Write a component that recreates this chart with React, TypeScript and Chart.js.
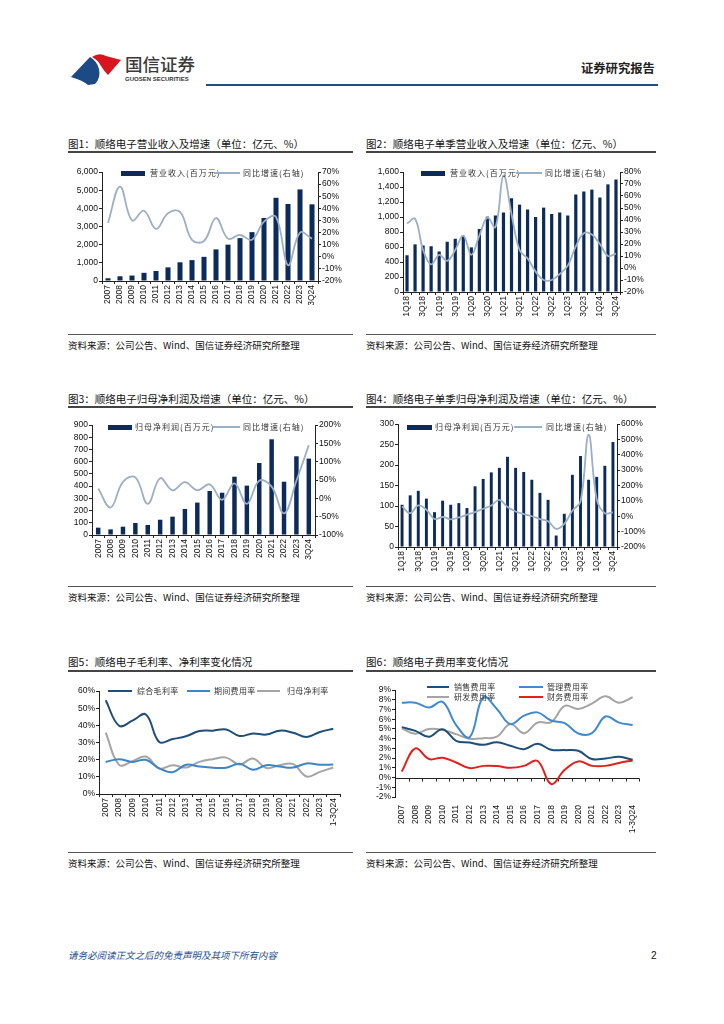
import React, { useEffect, useRef } from "react";
import { Chart, registerables } from "chart.js";

Chart.register(...registerables);

// ---------------- data ----------------
const annualLabels = ["2007", "2008", "2009", "2010", "2011", "2012", "2013", "2014", "2015", "2016", "2017", "2018", "2019", "2020", "2021", "2022", "2023", "1-3Q24"];
const quarterLabels = ["1Q18", "2Q18", "3Q18", "4Q18", "1Q19", "2Q19", "3Q19", "4Q19", "1Q20", "2Q20", "3Q20", "4Q20", "1Q21", "2Q21", "3Q21", "4Q21", "1Q22", "2Q22", "3Q22", "4Q22", "1Q23", "2Q23", "3Q23", "4Q23", "1Q24", "2Q24", "3Q24"];

const revenueAnnual = [150, 260, 300, 450, 550, 750, 1030, 1150, 1330, 1740, 2000, 2360, 2690, 3470, 4580, 4240, 5040, 4220];
const revenueAnnualYoY = [28, 58, 30, 38, 23, 36, 37, 14, 13, 32, 15, 18, 14, 29, 33, -7, 20, 15];

const revenueQuarterly = [490, 635, 620, 610, 540, 670, 710, 750, 595, 840, 1005, 1020, 1060, 1250, 1165, 1100, 1000, 1125, 1040, 1060, 1020, 1300, 1340, 1365, 1260, 1435, 1500];
const revenueQuarterlyYoY = [37, 41, 15, 3, 11, 6, 15, 27, 11, 27, 42, 34, 77, 45, 15, 8, -3, -10, -10, -5, 2, 18, 29, 28, 20, 10, 12];

const profitAnnual = [60, 46, 68, 98, 82, 125, 150, 213, 265, 360, 346, 477, 404, 589, 783, 436, 644, 625];
const profitAnnualYoY = [27, -25, 45, 57, -15, 55, 22, 44, 22, 38, -4, 41, -15, 48, 32, -41, 48, 145];

const profitQuarterly = [103, 126, 137, 118, 85, 113, 103, 107, 95, 148, 166, 182, 193, 220, 193, 183, 164, 132, 115, 28, 81, 176, 222, 164, 171, 198, 256];
const profitQuarterlyYoY = [64, 20, 70, 42, -18, -5, -20, -8, 10, 27, 49, 70, 107, 60, 31, 14, 0, -18, -33, -82, -50, 36, 96, 530, 110, 20, 25];

const grossMargin = [54.6, 39.8, 42.7, 46.3, 30.3, 32, 33.6, 36.7, 36.9, 37.6, 33.8, 35.3, 34.6, 36.9, 35.7, 33.2, 36.1, 38.0];
const expenseRatio = [18.7, 20.3, 18.7, 19.9, 14.9, 12.7, 17, 16, 15.3, 15.3, 17.6, 14.1, 16.8, 16, 15.4, 17.8, 17, 17.2];
const netMargin = [35.7, 17, 19.1, 21.8, 14.9, 16.8, 15.4, 18.7, 20.3, 21.2, 17.2, 20.7, 15.1, 16.8, 17.4, 10.2, 12.9, 15.4];

const sellingRatio = [5.18, 4.8, 4.2, 4.97, 3.78, 3.6, 3.36, 3.64, 3.26, 2.92, 3.47, 2.85, 2.82, 2.75, 1.9, 1.96, 2.13, 1.83];
const adminRatio = [7.7, 7.7, 7.2, 7.77, 5.4, 4.15, 8.25, 7.05, 5.5, 6.37, 6.7, 5.86, 5.6, 4.53, 4.56, 6.27, 5.65, 5.4];
const rdRatio = [5.07, 4.5, 5.0, 4.9, 4.46, 4.0, 4.05, 4.2, 5.5, 4.56, 5.65, 5.7, 7.36, 7.05, 7.6, 8.35, 7.7, 8.25];
const financeRatio = [0.63, 3.0, 1.9, 2.03, 1.55, 0.97, 1.2, 1.18, 1.0, 1.2, 1.7, -0.67, 0.8, 1.66, 1.2, 1.2, 1.5, 1.76];

// ---------------- styles ----------------
const NAVY = "#0C2B5A";
const GROWTH = "#9CB0C5";
const AXIS = "#222";
const TICK_COLOR = "#111";
const TICK_FONT = { family: "'Liberation Sans', Arial, sans-serif", size: 8.5 };
const CJK = "'Noto Sans CJK SC', 'Noto Sans', sans-serif";
const C_DARK = "#1F4E79";
const C_BLUE = "#3D85C6";
const C_GRAY = "#A5A5A5";
const C_RED = "#E2211C";

const fixW = (w: number) => (s: any) => { s.width = w; };
const fixH = (h: number) => (s: any) => { s.height = h; };

const thousands = (v: any) => Number(v).toLocaleString("en-US");
const pct = (v: any) => v + "%";

function xAxis(hX: number, everyOther: boolean, labels: string[], border = true) {
  return {
    type: "category",
    offset: true,
    grid: { display: border, drawOnChartArea: false, drawTicks: true, tickLength: 3, color: AXIS, offset: true },
    border: { display: border, color: AXIS, width: 1 },
    ticks: {
      font: TICK_FONT,
      color: TICK_COLOR,
      autoSkip: false,
      maxRotation: 90,
      minRotation: 90,
      padding: border ? 1 : 5,
      callback: (_v: any, i: number) => (everyOther && i % 2 === 1 ? "" : labels[i]),
    },
    afterFit: fixH(hX),
  };
}

function yAxis(pos: "left" | "right", min: number, max: number, step: number, w: number, fmt: (v: any) => string) {
  return {
    position: pos,
    min,
    max,
    grid: { display: true, drawOnChartArea: false, drawTicks: true, tickLength: 3, color: AXIS },
    border: { display: true, color: AXIS, width: 1 },
    ticks: { stepSize: step, autoSkip: false, font: TICK_FONT, color: TICK_COLOR, padding: 1, callback: fmt },
    afterFit: fixW(w),
  };
}

function barLineConfig(p: any) {
  return {
    type: "bar",
    data: {
      labels: p.labels,
      datasets: [
        {
          type: "line",
          data: p.line,
          borderColor: GROWTH,
          borderWidth: 1.8,
          pointRadius: 0,
          tension: 0.4,
          yAxisID: "y1",
          order: 1,
        },
        {
          type: "bar",
          data: p.bars,
          backgroundColor: NAVY,
          barPercentage: p.barPct,
          categoryPercentage: 1,
          yAxisID: "y",
          order: 2,
        },
      ],
    },
    options: {
      responsive: false,
      animation: false,
      layout: { padding: { top: 7, left: 0, right: 0, bottom: 0 } },
      plugins: { legend: { display: false }, tooltip: { enabled: false } },
      scales: {
        x: xAxis(p.hX, p.everyOther, p.labels),
        y: yAxis("left", 0, p.yMax, p.yStep, p.wL, p.leftFmt),
        y1: yAxis("right", p.y1Min, p.y1Max, p.y1Step, p.wR, p.rightFmt || pct),
      },
    },
  };
}

const zeroAxisPlugin = {
  id: "zeroAxis",
  beforeDatasetsDraw(chart: any) {
    const { ctx, chartArea, scales } = chart;
    const x = scales.x;
    const y = scales.y;
    const y0 = Math.round(y.getPixelForValue(0)) + 0.5;
    const half = (x.getPixelForValue(1) - x.getPixelForValue(0)) / 2;
    ctx.save();
    ctx.strokeStyle = AXIS;
    ctx.lineWidth = 1;
    ctx.beginPath();
    ctx.moveTo(chartArea.left, y0);
    ctx.lineTo(chartArea.right, y0);
    const n = chart.data.labels.length;
    for (let i = 0; i <= n; i++) {
      const px = Math.round(x.getPixelForValue(0) - half + i * half * 2) + 0.5;
      ctx.moveTo(px, y0);
      ctx.lineTo(px, y0 + 3);
    }
    ctx.stroke();
    ctx.restore();
  },
};

function lineDs(data: number[], color: string) {
  return { data, borderColor: color, borderWidth: 2, pointRadius: 0, tension: 0.4, fill: false };
}

function margin5Config() {
  return {
    type: "line",
    data: {
      labels: annualLabels,
      datasets: [lineDs(grossMargin, C_DARK), lineDs(expenseRatio, C_BLUE), lineDs(netMargin, C_GRAY)],
    },
    options: {
      responsive: false,
      animation: false,
      layout: { padding: { top: 7, left: 0, right: 6, bottom: 0 } },
      plugins: { legend: { display: false }, tooltip: { enabled: false } },
      scales: {
        x: xAxis(38, false, annualLabels),
        y: yAxis("left", 0, 60, 10, 30, pct),
      },
    },
  };
}

function expense6Config() {
  return {
    type: "line",
    data: {
      labels: annualLabels,
      datasets: [
        lineDs(sellingRatio, C_DARK),
        lineDs(adminRatio, "#4389D0"),
        lineDs(rdRatio, C_GRAY),
        lineDs(financeRatio, C_RED),
      ],
    },
    options: {
      responsive: false,
      animation: false,
      layout: { padding: { top: 7, left: 0, right: 6, bottom: 0 } },
      plugins: { legend: { display: false }, tooltip: { enabled: false } },
      scales: {
        x: xAxis(36, false, annualLabels, false),
        y: yAxis("left", -2, 9, 1, 28, pct),
      },
    },
    plugins: [zeroAxisPlugin],
  };
}

// ---------------- components ----------------
function ChartCanvas({ left, top, width, height, make }: any) {
  const ref = useRef<HTMLCanvasElement>(null);
  useEffect(() => {
    const chart = new Chart(ref.current as HTMLCanvasElement, make());
    return () => chart.destroy();
  }, []);
  return (
    <canvas
      ref={ref}
      width={width}
      height={height}
      style={{ position: "absolute", left, top, width, height }}
    />
  );
}

function Txt({ x, y, size, children, color = "#111", weight = 400, family = CJK, italic = false, ls = 0 }: any) {
  const h = Math.round(size * 1.5);
  return (
    <div
      style={{
        position: "absolute",
        left: x,
        top: y - h / 2,
        height: h,
        lineHeight: h + "px",
        fontSize: size,
        color,
        fontWeight: weight,
        fontFamily: family,
        fontStyle: italic ? "italic" : "normal",
        letterSpacing: ls,
        whiteSpace: "nowrap",
      }}
    >
      {children}
    </div>
  );
}

function Rule({ x1, x2, y, w = 1, color = "#444" }: any) {
  return <div style={{ position: "absolute", left: x1, top: y - w / 2, width: x2 - x1, height: w, background: color }} />;
}

function LegBar({ x1, x2, y }: any) {
  return <div style={{ position: "absolute", left: x1, top: y - 2.5, width: x2 - x1, height: 5, background: NAVY }} />;
}

function LegLine({ x1, x2, y, color, w = 2 }: any) {
  return <div style={{ position: "absolute", left: x1, top: y - w / 2, width: x2 - x1, height: w, background: color }} />;
}

function LegText({ x, y, children, ls = 1 }: any) {
  return (
    <Txt x={x} y={y} size={8} color="#333" ls={ls}>
      {children}
    </Txt>
  );
}

const SOURCE = "资料来源：公司公告、Wind、国信证券经济研究所整理";

export default function App() {
  return (
    <div style={{ position: "absolute", left: 0, top: 0, width: 724, height: 1024, background: "#fff", overflow: "hidden" }}>
      {/* header */}
      <svg style={{ position: "absolute", left: 0, top: 0 }} width={200} height={100}>
        <path d="M71,77 L90,57 Q97,61 99,69 Q101,78 95,84 L88,85 Q82,80 71,77 Z" fill="#1B4A85" />
        <path d="M92,57 Q99,52 106,56 L121,60 L108,75 Q104,71 101,66 Q98,60 92,57 Z" fill="#D7151F" />
      </svg>
      <Txt x={125} y={64} size={17.5} color="#3a3a3a" weight={500}>国信证券</Txt>
      <Txt x={125} y={79} size={6} color="#333" weight={700} family="'Liberation Sans', Arial, sans-serif">GUOSEN SECURITIES</Txt>
      <Txt x={581} y={68} size={12.3} color="#222" weight={700}>证券研究报告</Txt>
      <Rule x1={206} x2={658} y={85} w={2.5} color="#1F4E8C" />

      {/* row 1 */}
      <Txt x={68} y={144} size={10.5}>图1：顺络电子营业收入及增速（单位：亿元、%）</Txt>
      <Rule x1={68} x2={353} y={152} w={1.5} color="#444" />
      <Txt x={366} y={144} size={10.5}>图2：顺络电子单季营业收入及增速（单位：亿元、%）</Txt>
      <Rule x1={366} x2={656} y={152} w={1.5} color="#444" />

      <ChartCanvas
        left={64}
        top={165}
        width={290}
        height={140}
        make={() =>
          barLineConfig({
            labels: annualLabels, bars: revenueAnnual, line: revenueAnnualYoY,
            yMax: 6000, yStep: 1000, y1Min: -20, y1Max: 70, y1Step: 10,
            wL: 38, wR: 36, hX: 24, barPct: 0.42, everyOther: false, leftFmt: thousands,
          })
        }
      />
      <LegBar x1={121} x2={145} y={173} />
      <LegText x={150} y={173}>营业收入(百万元)</LegText>
      <LegLine x1={214} x2={240} y={173} color={GROWTH} w={1.6} />
      <LegText x={243} y={173}>同比增速(右轴)</LegText>

      <ChartCanvas
        left={365}
        top={165}
        width={291}
        height={153}
        make={() =>
          barLineConfig({
            labels: quarterLabels, bars: revenueQuarterly, line: revenueQuarterlyYoY,
            yMax: 1600, yStep: 200, y1Min: -20, y1Max: 80, y1Step: 10,
            wL: 38, wR: 36, hX: 26, barPct: 0.4, everyOther: true, leftFmt: thousands,
          })
        }
      />
      <LegBar x1={421} x2={445} y={173} />
      <LegText x={450} y={173}>营业收入(百万元)</LegText>
      <LegLine x1={516} x2={542} y={173} color={GROWTH} w={1.6} />
      <LegText x={545} y={173}>同比增速(右轴)</LegText>

      <Rule x1={68} x2={353} y={334} w={1} color="#555" />
      <Rule x1={366} x2={656} y={334} w={1} color="#555" />
      <Txt x={68} y={345} size={9.5}>{SOURCE}</Txt>
      <Txt x={366} y={345} size={9.5}>{SOURCE}</Txt>

      {/* row 2 */}
      <Txt x={68} y={399} size={10.5}>图3：顺络电子归母净利润及增速（单位：亿元、%）</Txt>
      <Rule x1={68} x2={353} y={407} w={1.5} color="#444" />
      <Txt x={366} y={399} size={10.5}>图4：顺络电子单季归母净利润及增速（单位：亿元、%）</Txt>
      <Rule x1={366} x2={656} y={407} w={1.5} color="#444" />

      <ChartCanvas
        left={62}
        top={418}
        width={289}
        height={142}
        make={() =>
          barLineConfig({
            labels: annualLabels, bars: profitAnnual, line: profitAnnualYoY,
            yMax: 900, yStep: 100, y1Min: -100, y1Max: 200, y1Step: 50,
            wL: 30, wR: 36, hX: 25, barPct: 0.36, everyOther: false, leftFmt: thousands,
          })
        }
      />
      <LegBar x1={108} x2={132} y={427} />
      <LegText x={135} y={427}>归母净利润(百万元)</LegText>
      <LegLine x1={213} x2={240} y={427} color={GROWTH} w={1.6} />
      <LegText x={243} y={427}>同比增速(右轴)</LegText>

      <ChartCanvas
        left={366}
        top={417}
        width={289}
        height={155}
        make={() =>
          barLineConfig({
            labels: quarterLabels, bars: profitQuarterly, line: profitQuarterlyYoY,
            yMax: 300, yStep: 50, y1Min: -200, y1Max: 600, y1Step: 100,
            wL: 32, wR: 38, hX: 25, barPct: 0.36, everyOther: true, leftFmt: thousands,
          })
        }
      />
      <LegBar x1={407} x2={432} y={427} />
      <LegText x={435} y={427}>归母净利润(百万元)</LegText>
      <LegLine x1={514} x2={542} y={427} color={GROWTH} w={1.6} />
      <LegText x={546} y={427}>同比增速(右轴)</LegText>

      <Rule x1={68} x2={353} y={586} w={1} color="#555" />
      <Rule x1={366} x2={656} y={586} w={1} color="#555" />
      <Txt x={68} y={597} size={9.5}>{SOURCE}</Txt>
      <Txt x={366} y={597} size={9.5}>{SOURCE}</Txt>

      {/* row 3 */}
      <Txt x={68} y={662} size={10.5}>图5：顺络电子毛利率、净利率变化情况</Txt>
      <Rule x1={68} x2={353} y={671} w={1.5} color="#444" />
      <Txt x={366} y={662} size={10.5}>图6：顺络电子费用率变化情况</Txt>
      <Rule x1={366} x2={656} y={671} w={1.5} color="#444" />

      <ChartCanvas left={69} top={684} width={277} height={148} make={margin5Config} />
      <LegLine x1={108} x2={132} y={691} color={C_DARK} w={2.5} />
      <LegText x={137} y={691} ls={0.3}>综合毛利率</LegText>
      <LegLine x1={187} x2={210} y={691} color={C_BLUE} w={2.5} />
      <LegText x={214} y={691} ls={0.3}>期间费用率</LegText>
      <LegLine x1={257} x2={280} y={691} color={C_GRAY} w={2.5} />
      <LegText x={287} y={691} ls={0.3}>归母净利率</LegText>

      <ChartCanvas left={367} top={683} width={281} height={150} make={expense6Config} />
      <LegLine x1={427} x2={449} y={687} color={C_DARK} w={2.5} />
      <LegText x={454} y={687} ls={0.3}>销售费用率</LegText>
      <LegLine x1={519} x2={543} y={687} color="#4389D0" w={2.5} />
      <LegText x={547} y={687} ls={0.3}>管理费用率</LegText>
      <LegLine x1={427} x2={449} y={697} color={C_GRAY} w={2.5} />
      <LegText x={454} y={697} ls={0.3}>研发费用率</LegText>
      <LegLine x1={519} x2={543} y={697} color={C_RED} w={2.5} />
      <LegText x={547} y={697} ls={0.3}>财务费用率</LegText>

      <Rule x1={68} x2={353} y={852} w={1} color="#555" />
      <Rule x1={366} x2={656} y={852} w={1} color="#555" />
      <Txt x={68} y={863} size={9.5}>{SOURCE}</Txt>
      <Txt x={366} y={863} size={9.5}>{SOURCE}</Txt>

      {/* footer */}
      <Txt x={68} y={955} size={9.5} color="#1F4E8C" italic>请务必阅读正文之后的免责声明及其项下所有内容</Txt>
      <Txt x={651} y={955} size={10} color="#111" family="'Liberation Sans', Arial, sans-serif">2</Txt>
    </div>
  );
}
